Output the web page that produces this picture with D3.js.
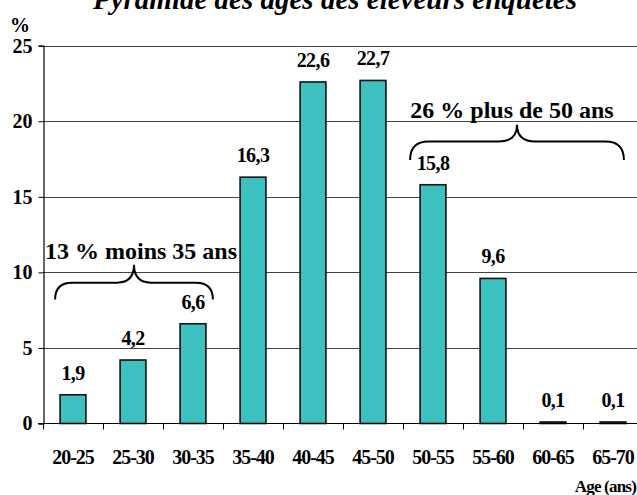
<!DOCTYPE html>
<html>
<head>
<meta charset="utf-8">
<script src="https://cdn.jsdelivr.net/npm/d3@7"></script>
<style>
  body { margin: 0; background: #fff; }
  svg { display: block; font-family: "Liberation Serif", "Times New Roman", serif; }
</style>
</head>
<body>
<svg id="chart"></svg>
<script>
// age groups and share of farmers (%)
const categories = ["20-25", "25-30", "30-35", "35-40", "40-45", "45-50", "50-55", "55-60", "60-65", "65-70"];
const values = [1.9, 4.2, 6.6, 16.3, 22.6, 22.7, 15.8, 9.6, 0.1, 0.1];
const yTicks = [0, 5, 10, 15, 20, 25];
const notes = ["13 % moins 35 ans", "26 % plus de 50 ans"];

const width = 637, height = 495;
const svg = d3.select("#chart")
    .attr("width", width)
    .attr("height", height);

const x = d3.scaleBand()
    .domain(categories)
    .range([43, 643])
    .paddingInner(0.57)
    .paddingOuter(0.285);

const y = d3.scaleLinear()
    .domain([0, 25])
    .range([423.5, 45.7]);

// title (top is cut off in the original)
svg.append("text")
    .attr("x", 335)
    .attr("y", 9)
    .attr("text-anchor", "middle")
    .attr("font-size", "29px")
    .attr("font-weight", "bold")
    .attr("font-style", "italic")
    .text("Pyramide des âges des éleveurs enquêtés");

// gridlines
svg.append("g")
    .selectAll("line")
    .data(yTicks.filter(d => d > 0))
    .enter()
    .append("line")
    .attr("x1", 43)
    .attr("x2", width)
    .attr("y1", d => Math.round(y(d)) + 0.5)
    .attr("y2", d => Math.round(y(d)) + 0.5)
    .attr("stroke", "#444")
    .attr("stroke-width", 1);

// y axis
const yAxis = svg.append("g")
    .attr("transform", "translate(43.5,0)")
    .call(d3.axisLeft(y).tickValues(yTicks).tickSize(5).tickPadding(6).tickFormat(d3.format("d")));
yAxis.select(".domain").attr("stroke", "#000").attr("stroke-width", 1.2);
yAxis.selectAll("text")
    .attr("font-family", "Liberation Serif, serif")
    .attr("font-size", "20px")
    .attr("font-weight", "bold")
    .attr("fill", "#000");

svg.append("text")
    .attr("x", 10)
    .attr("y", 32)
    .attr("font-size", "20px")
    .attr("font-weight", "bold")
    .text("%");

// bars
svg.append("g")
    .selectAll("rect")
    .data(values)
    .enter()
    .append("rect")
    .attr("x", (d, i) => x(categories[i]))
    .attr("y", d => y(d))
    .attr("width", x.bandwidth())
    .attr("height", d => y(0) - y(d))
    .attr("fill", "#3cc0c0")
    .attr("stroke", "#111")
    .attr("stroke-width", 1.6);

// value labels
svg.append("g")
    .selectAll("text")
    .data(values)
    .enter()
    .append("text")
    .attr("x", (d, i) => x(categories[i]) + x.bandwidth() / 2)
    .attr("y", d => y(d) - 15)
    .attr("text-anchor", "middle")
    .attr("font-size", "20px")
    .attr("font-weight", "bold")
    .attr("letter-spacing", "-0.6px")
    .text(d => String(d).replace(".", ","));

// x axis with ticks between the bands
const xg = svg.append("g");
xg.append("line")
    .attr("x1", 38)
    .attr("x2", width)
    .attr("y1", 423.5)
    .attr("y2", 423.5)
    .attr("stroke", "#000")
    .attr("stroke-width", 1.2);
xg.selectAll(".tick")
    .data(categories)
    .enter()
    .append("line")
    .attr("x1", d => Math.round(x(d) - x.step() * x.paddingOuter()) + 0.5)
    .attr("x2", d => Math.round(x(d) - x.step() * x.paddingOuter()) + 0.5)
    .attr("y1", 423.5)
    .attr("y2", 429.5)
    .attr("stroke", "#000");
xg.selectAll(".lab")
    .data(categories)
    .enter()
    .append("text")
    .attr("x", d => x(d) + x.bandwidth() / 2)
    .attr("y", 463.5)
    .attr("text-anchor", "middle")
    .attr("font-size", "20px")
    .attr("font-weight", "bold")
    .attr("letter-spacing", "-1px")
    .text(d => d);

svg.append("text")
    .attr("x", 636)
    .attr("y", 492)
    .attr("text-anchor", "end")
    .attr("font-size", "17px")
    .attr("font-weight", "bold")
    .attr("letter-spacing", "-0.8px")
    .text("Age (ans)");

// curly braces
function brace(x1, x2, yEnd, yH, yTip) {
    const xm = (x1 + x2) / 2, r = yEnd - yH;
    return `M${x1},${yEnd} Q${x1},${yH} ${x1 + r},${yH} L${xm - r},${yH} Q${xm},${yH} ${xm},${yTip}` +
        ` Q${xm},${yH} ${xm + r},${yH} L${x2 - r},${yH} Q${x2},${yH} ${x2},${yEnd}`;
}

const left = { x1: x("20-25") - 5, x2: x("30-35") + x.bandwidth() + 7 };
const right = { x1: x("50-55") - 10, x2: x("65-70") + x.bandwidth() - 2 };

svg.append("path")
    .attr("d", brace(left.x1, left.x2, y(8.2), y(9.32), y(10.5)))
    .attr("fill", "none")
    .attr("stroke", "#000")
    .attr("stroke-width", 2);
svg.append("path")
    .attr("d", brace(right.x1, right.x2, y(17.44), y(18.66), y(19.77)))
    .attr("fill", "none")
    .attr("stroke", "#000")
    .attr("stroke-width", 2);

svg.append("text")
    .attr("x", 141)
    .attr("y", y(10.9))
    .attr("text-anchor", "middle")
    .attr("font-size", "24px")
    .attr("font-weight", "bold")
    .text(notes[0]);
svg.append("text")
    .attr("x", 512)
    .attr("y", y(20.22))
    .attr("text-anchor", "middle")
    .attr("font-size", "24px")
    .attr("font-weight", "bold")
    .text(notes[1]);
</script>
</body>
</html>
